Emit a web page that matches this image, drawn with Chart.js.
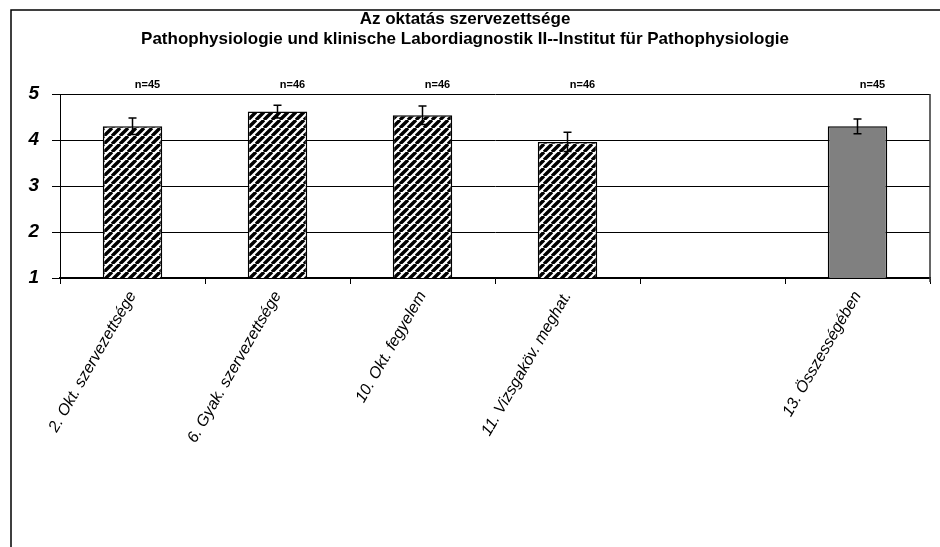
<!DOCTYPE html>
<html>
<head>
<meta charset="utf-8">
<script src="https://cdn.jsdelivr.net/npm/chart.js@4"></script>
<style>
  html, body { margin: 0; padding: 0; background: #fff; }
  #wrap { width: 940px; height: 547px; }
</style>
</head>
<body>
<div id="wrap"><canvas id="chart" width="940" height="547"></canvas></div>
<script>
const categories = [
  "2. Okt. szervezettsége",
  "6. Gyak. szervezettsége",
  "10. Okt. fegyelem",
  "11. Vizsgaköv. meghat.",
  "",
  "13. Összességében",
];
const means = [4.30, 4.62, 4.54, 3.96, null, 4.30];
const errors = [0.18, 0.14, 0.20, 0.21, null, 0.16];
const counts = ["n=45", "n=46", "n=46", "n=46", "", "n=45"];
const titleLines = [
  "Az oktatás szervezettsége",
  "Pathophysiologie und klinische Labordiagnostik II--Institut für Pathophysiologie",
];

const FONT = "Arial, 'Liberation Sans', sans-serif";

// black/white diagonal hatch like the excel fill
function makeHatch() {
  const s = 8;
  const c = document.createElement("canvas");
  c.width = s;
  c.height = s;
  const g = c.getContext("2d");
  g.fillStyle = "#fff";
  g.fillRect(0, 0, s, s);
  g.strokeStyle = "#000";
  g.lineWidth = 3.4;
  g.beginPath();
  for (let k = -1; k <= 1; k++) {
    g.moveTo(k * s, s);
    g.lineTo(k * s + s, 0);
  }
  g.stroke();
  return g.createPattern(c, "repeat");
}
const hatch = makeHatch();
const barColors = categories.map((c, i) => (i === 5 ? "#808080" : hatch));

const extras = {
  id: "extras",
  beforeDraw(chart) {
    const ctx = chart.ctx;
    ctx.save();
    ctx.strokeStyle = "#000";
    ctx.lineWidth = 1.5;
    ctx.beginPath();
    ctx.moveTo(11, chart.height);
    ctx.lineTo(11, 10);
    ctx.lineTo(chart.width, 10);
    ctx.stroke();
    ctx.restore();
  },
  afterDatasetsDraw(chart) {
    const ctx = chart.ctx;
    const y = chart.scales.y;
    const meta = chart.getDatasetMeta(0);
    const area = chart.chartArea;
    ctx.save();
    ctx.strokeStyle = "#000";
    ctx.lineWidth = 1.5;
    meta.data.forEach((bar, i) => {
      if (means[i] == null) return;
      const top = y.getPixelForValue(means[i] + errors[i]);
      const bot = y.getPixelForValue(means[i] - errors[i]);
      ctx.beginPath();
      ctx.moveTo(bar.x, top);
      ctx.lineTo(bar.x, bot);
      ctx.moveTo(bar.x - 4, top);
      ctx.lineTo(bar.x + 4, top);
      ctx.moveTo(bar.x - 4, bot);
      ctx.lineTo(bar.x + 4, bot);
      ctx.stroke();
    });
    // n labels above the plot
    ctx.fillStyle = "#000";
    ctx.font = "bold 11px " + FONT;
    ctx.textAlign = "center";
    ctx.textBaseline = "middle";
    meta.data.forEach((bar, i) => {
      if (!counts[i]) return;
      ctx.fillText(counts[i], bar.x + 15, area.top - 9);
    });
    // plot frame
    ctx.strokeStyle = "#333";
    ctx.lineWidth = 1.5;
    ctx.beginPath();
    ctx.moveTo(area.right, area.top);
    ctx.lineTo(area.right, area.bottom + 4);
    ctx.stroke();
    ctx.restore();
  },
};

new Chart(document.getElementById("chart"), {
  type: "bar",
  data: {
    labels: categories,
    datasets: [
      {
        data: means,
        backgroundColor: barColors,
        borderColor: "#000",
        borderWidth: 1.5,
        barPercentage: 0.41,
        categoryPercentage: 1,
      },
    ],
  },
  options: {
    responsive: false,
    animation: false,
    layout: { padding: { left: 0, right: 10, top: 0, bottom: 0 } },
    plugins: {
      legend: { display: false },
      tooltip: { enabled: false },
      title: {
        display: true,
        text: titleLines,
        color: "#000",
        font: { family: FONT, size: 17, weight: "bold", lineHeight: 1.18 },
        padding: { top: 9, bottom: 45 },
      },
    },
    scales: {
      x: {
        afterFit: (scale) => {
          scale.height = 269;
        },
        grid: {
          offset: true,
          drawOnChartArea: false,
          drawTicks: true,
          tickLength: 6,
          color: "#000",
        },
        border: { color: "#000", width: 1.5 },
        ticks: {
          color: "#000",
          maxRotation: 60,
          minRotation: 60,
          autoSkip: false,
          padding: 4,
          font: { family: FONT, size: 16, style: "italic" },
        },
      },
      y: {
        min: 1,
        max: 5,
        afterFit: (scale) => {
          scale.width = 60;
        },
        grid: { color: "#000", tickLength: 8, lineWidth: 1 },
        border: { color: "#000", width: 1 },
        ticks: {
          stepSize: 1,
          color: "#000",
          padding: 13,
          font: { family: FONT, size: 19, weight: "bold", style: "italic" },
        },
      },
    },
  },
  plugins: [extras],
});
</script>
</body>
</html>
